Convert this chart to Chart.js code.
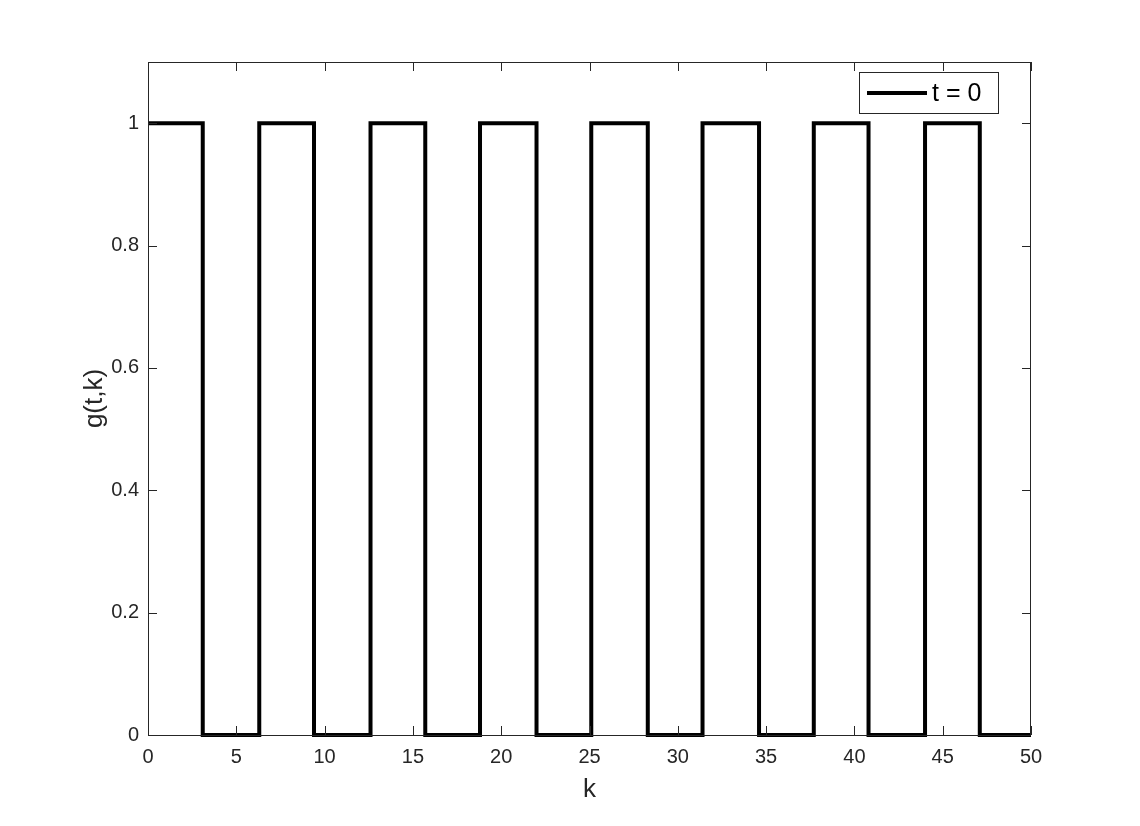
<!DOCTYPE html>
<html lang="en">
<head>
  <meta charset="UTF-8">
  <title>g(t,k)</title>
  <script src="https://cdn.jsdelivr.net/npm/chart.js"></script>
  <style>
    html, body { margin: 0; padding: 0; background: #fff; }
    #wrap { width: 1140px; height: 826px; }
  </style>
</head>
<body>
  <div id="wrap"><canvas id="gChart"></canvas></div>

  <script>
    // switching points of the square wave (k) and level held after each one
    const edges  = [0, 3.1, 6.3, 9.4, 12.6, 15.7, 18.8, 22.0, 25.1, 28.3, 31.4, 34.6, 37.7, 40.8, 44.0, 47.1, 50];
    const levels = [1, 0,   1,   0,   1,    0,    1,    0,    1,    0,    1,    0,    1,    0,    1,    0,    0];
    const xTicks = [0, 5, 10, 15, 20, 25, 30, 35, 40, 45, 50];
    const yTicks = [0, 0.2, 0.4, 0.6, 0.8, 1];
    const seriesLabel = 't = 0';

    const FONT = "'Liberation Sans', Arial, Helvetica, sans-serif";

    // matlab-like box, inward ticks on all four sides and the boxed legend
    const frame = {
      id: 'frame',
      afterDatasetsDraw(chart) {
        const { ctx, chartArea: a, scales } = chart;
        const len = 9;
        ctx.save();
        ctx.strokeStyle = '#262626';
        ctx.lineWidth = 1;
        ctx.strokeRect(a.left + 0.5, a.top + 0.5, a.right - a.left - 1, a.bottom - a.top);
        ctx.beginPath();
        xTicks.forEach(v => {
          const x = Math.round(scales.x.getPixelForValue(v)) + 0.5;
          ctx.moveTo(x, a.bottom); ctx.lineTo(x, a.bottom - len);
          ctx.moveTo(x, a.top); ctx.lineTo(x, a.top + len);
        });
        yTicks.forEach(v => {
          const y = Math.round(scales.y.getPixelForValue(v)) + 0.5;
          ctx.moveTo(a.left, y); ctx.lineTo(a.left + len, y);
          ctx.moveTo(a.right, y); ctx.lineTo(a.right - len, y);
        });
        ctx.stroke();

        // legend
        const bx = a.right - 172, by = a.top + 10, bw = 139, bh = 41;
        ctx.fillStyle = '#fff';
        ctx.fillRect(bx, by, bw, bh);
        ctx.strokeStyle = '#262626';
        ctx.strokeRect(bx + 0.5, by + 0.5, bw, bh);
        ctx.strokeStyle = '#000';
        ctx.lineWidth = 4;
        ctx.beginPath();
        ctx.moveTo(bx + 8, by + 21);
        ctx.lineTo(bx + 68, by + 21);
        ctx.stroke();
        ctx.fillStyle = '#000';
        ctx.font = '25px ' + FONT;
        ctx.textBaseline = 'middle';
        ctx.fillText(chart.data.datasets[0].label, bx + 73, by + 22);
        ctx.restore();
      }
    };

    new Chart(document.getElementById('gChart'), {
      type: 'line',
      data: {
        datasets: [{
          label: seriesLabel,
          data: edges.map((k, i) => ({ x: k, y: levels[i] })),
          stepped: 'before',
          borderColor: '#000',
          borderWidth: 4,
          pointRadius: 0,
          fill: false,
          clip: 4
        }]
      },
      options: {
        responsive: true,
        maintainAspectRatio: false,
        animation: false,
        layout: { padding: { left: 0, top: 62, right: 109, bottom: 0 } },
        plugins: {
          legend: { display: false },
          tooltip: { enabled: false }
        },
        scales: {
          x: {
            type: 'linear',
            min: 0, max: 50,
            grid: { display: false, drawTicks: false },
            border: { display: false },
            afterFit: s => { s.height = 91; },
            afterBuildTicks: s => { s.ticks = xTicks.map(v => ({ value: v })); },
            ticks: { color: '#262626', font: { family: FONT, size: 20 }, padding: 10, maxRotation: 0 },
            title: { display: true, text: 'k', color: '#262626', font: { family: FONT, size: 26 }, padding: { top: 0, bottom: 21 } }
          },
          y: {
            min: 0, max: 1.1,
            grid: { display: false, drawTicks: false },
            border: { display: false },
            afterFit: s => { s.width = 148; },
            afterBuildTicks: s => { s.ticks = yTicks.map(v => ({ value: v })); },
            ticks: { color: '#262626', font: { family: FONT, size: 20 }, padding: 9, callback: v => String(v) },
            title: { display: true, text: 'g(t,k)', color: '#262626', font: { family: FONT, size: 26 }, padding: { top: 79, bottom: 0 } }
          }
        }
      },
      plugins: [frame]
    });
  </script>
</body>
</html>
